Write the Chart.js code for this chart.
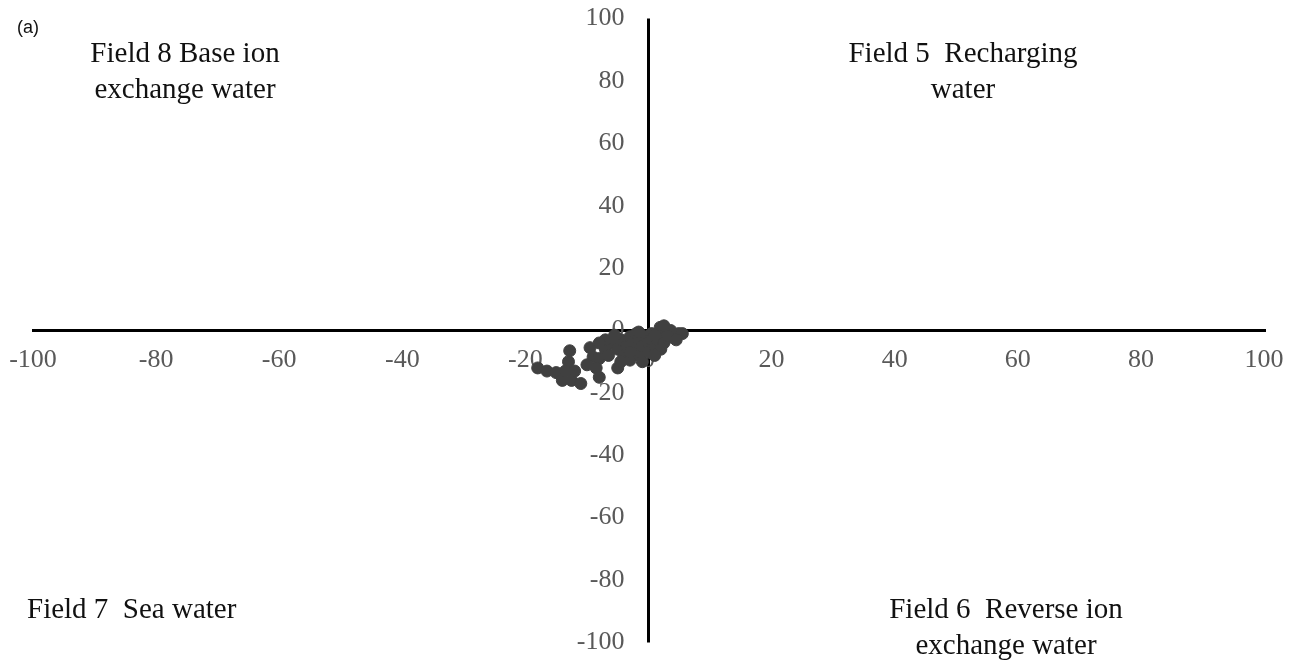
<!DOCTYPE html>
<html>
<head>
<meta charset="utf-8">
<script src="https://cdn.jsdelivr.net/npm/chart.js@4"></script>
<style>
  body { margin: 0; background: #fff; }
  #wrap { position: relative; width: 1296px; height: 661px; }
  .lbl { position: absolute; font-family: 'Liberation Serif', serif; font-size: 29px; color: #111; text-align: center; line-height: 36px; white-space: pre; }
  #tag { position: absolute; left: 17px; top: 17px; font-family: 'Liberation Sans', Arial, sans-serif; font-size: 18px; color: #111; }
</style>
</head>
<body>
<div id="wrap">
  <canvas id="chart" width="1296" height="661"></canvas>
  <div id="tag">(a)</div>
  <div class="lbl" style="left:65px; top:34px; width:240px;">Field 8 Base ion
exchange water</div>
  <div class="lbl" style="left:833px; top:34px; width:260px;">Field 5  Recharging
water</div>
  <div class="lbl" style="left:27px; top:590px; width:260px; text-align:left;">Field 7  Sea water</div>
  <div class="lbl" style="left:866px; top:590px; width:280px;">Field 6  Reverse ion
exchange water</div>
</div>
<script>
// sample values
const xVals = [-18, -16.5, -15, -14, -12.5, -11, -13, -12.8, -13.5, -12,
  -9.5, -9, -8, -10, -8.5, -8, -7, -6.5, -5, -6, -5, -4.5,
  -4, -3.5, -3, -3, -2.5, -2, -2, -1.5, -1.5, -1, -0.5, 0, 0, 0.5, 0.5, 1, 1.5, 2, 2, 2.5, 3,
  -1.6, 1.9, 3.6, 4.9, 3.1, -7, -5.5, -8, -3, -4.5, -1, 1,
  5.5, 4.5, 2.5, 1];
const yVals = [-12, -13, -13.5, -16, -16, -17, -10, -6.5, -13, -13,
  -5.5, -8.5, -9, -11, -12, -15, -6, -8, -12, -4, -6, -3,
  -8, -5, -2, -9.5, -4, -6, -1, -3, -8, -5, -2, -4, -7, -1, -3, -5, -3, -6, -2, -4, -2.5,
  -0.5, 1, 0, -1, -1.6, -3, -1.5, -4, -7, -10, -10, -8,
  -1, -3, 1.5, -1.5];
const tickValues = [-100, -80, -60, -40, -20, 0, 20, 40, 60, 80, 100];

const points = xVals.map((x, i) => ({ x: x, y: yVals[i] }));

const tickFont = { family: 'Liberation Serif', size: 26 };

new Chart(document.getElementById('chart'), {
  type: 'scatter',
  data: {
    datasets: [{
      data: points,
      backgroundColor: '#404040',
      borderColor: '#404040',
      pointRadius: 6,
      pointHoverRadius: 6
    }]
  },
  options: {
    responsive: false,
    animation: false,
    layout: { padding: { left: 33, right: 32, top: 3, bottom: 0 } },
    plugins: { legend: { display: false }, tooltip: { enabled: false } },
    scales: {
      x: {
        type: 'linear', min: -100, max: 100,
        position: { y: 0 },
        afterBuildTicks: s => { s.ticks = tickValues.map(v => ({ value: v })); },
        // end labels may hang past the axis, as in the original
        afterFit: s => { s.paddingLeft = 0; s.paddingRight = 0; },
        // vertical axis line drawn as the x=0 grid line
        grid: {
          drawTicks: false, lineWidth: 3,
          color: c => (c.tick && c.tick.value === 0) ? '#000' : 'rgba(0,0,0,0)'
        },
        border: { color: '#000', width: 3 },
        ticks: { color: '#595959', font: tickFont, padding: 14, maxRotation: 0 }
      },
      y: {
        type: 'linear', min: -100, max: 100,
        position: { x: -3.9 },
        afterBuildTicks: s => { s.ticks = tickValues.map(v => ({ value: v })); },
        grid: { display: false, drawTicks: false },
        border: { display: false },
        ticks: { color: '#595959', font: tickFont }
      }
    }
  }
});
</script>
</body>
</html>
